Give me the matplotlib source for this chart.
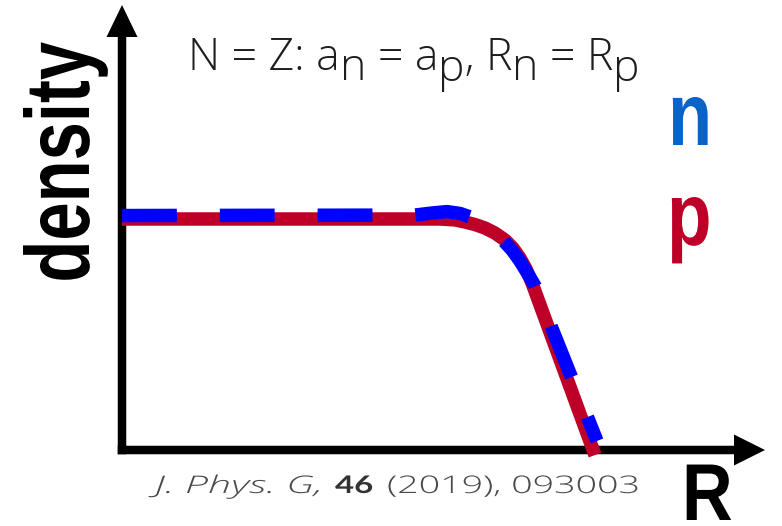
import matplotlib
matplotlib.use("Agg")
import matplotlib.pyplot as plt
from matplotlib import patheffects
from matplotlib.patches import FancyArrow
from matplotlib.transforms import Affine2D

# Radial coordinate (arb. units) and density normalised to the plateau
r_proton = [0.00, 6.36, 6.66, 6.86, 7.06, 7.26, 7.46, 7.66, 7.82, 7.96, 8.08, 8.20, 9.46]
rho_proton = [1.000, 1.000, 0.996, 0.987, 0.976, 0.961, 0.939, 0.909, 0.874,
              0.831, 0.784, 0.723, -0.022]

r_neutron = [0.00, 5.86, 6.20, 6.50, 6.76, 6.96, 7.16, 7.36, 7.60, 7.80, 7.96,
             8.12, 8.26, 9.50]
rho_neutron = [1.015, 1.017, 1.026, 1.032, 1.024, 1.009, 0.989, 0.961, 0.913,
               0.866, 0.818, 0.762, 0.710, 0.039]

# Title pieces: (text, lowered as subscript)
title_parts = [("N = Z: a", False), ("n", True), (" = a", False), ("p", True),
               (", R", False), ("n", True), (" = R", False), ("p", True)]

citation_text = ["J. Phys. G,", "46", "(2019), 093003"]

RED = "#BE0028"
BLUE = "#0000FF"
N_LABEL = "#0A64C8"

W, H = 782, 526
fig = plt.figure(figsize=(W / 100, H / 100), dpi=100)
# pixel coordinates with the origin at the top-left corner
px = Affine2D().scale(1 / W, -1 / H).translate(0, 1) + fig.transFigure
renderer = fig.canvas.get_renderer()

light = dict(family=["Open Sans", "Lato", "DejaVu Sans"], weight=300)


class Stretch(patheffects.AbstractPathEffect):
    """Scale glyph outlines along (sx) and across (sy) the writing direction."""

    def __init__(self, sx=1.0, sy=1.0):
        super().__init__()
        self._pre = Affine2D().scale(sx, sy)

    def draw_path(self, renderer, gc, tpath, affine, rgbFace=None):
        renderer.draw_path(gc, tpath, self._pre + affine, rgbFace)


def ink_width(s, **kw):
    t = fig.text(0, 0, s, **kw)
    w = t.get_window_extent(renderer).width
    t.remove()
    return w


# data axes: origin sits on the arrow corner
x0, y0, x1, y1 = 122, 450, 765, 5
ax = fig.add_axes([x0 / W, (H - y0) / H, (x1 - x0) / W, (y0 - y1) / H])
ax.patch.set_alpha(0)
ax.axis("off")

shaft = 8.5
ax.add_patch(FancyArrow(x0, y0 + shaft / 2, 0, y1 - (y0 + shaft / 2), width=shaft,
                        head_width=31, head_length=32, length_includes_head=True,
                        transform=px, color="black", lw=0, clip_on=False, zorder=1))
ax.add_patch(FancyArrow(x0 - shaft / 2, y0, x1 - (x0 - shaft / 2), 0, width=shaft,
                        head_width=31, head_length=31, length_includes_head=True,
                        transform=px, color="black", lw=0, clip_on=False, zorder=1))

lw = 9.7
ax.plot(r_proton, rho_proton, color=RED, lw=lw, solid_capstyle="butt",
        solid_joinstyle="round", clip_on=False, zorder=3)
ax.plot(r_neutron, rho_neutron, color=BLUE, lw=lw, linestyle=(0, (4.07, 3.19)),
        dash_capstyle="butt", dash_joinstyle="round", clip_on=False, zorder=4)

ax.set_xlim(0, (x1 - x0) / 50)
ax.set_ylim(0, (y0 - y1) / 231)

# title with full-size, lowered subscripts
tfont = dict(size=32, **light)
tx, ty, drop = 188, 70, 10.5
prefix = ""
for s, low in title_parts:
    body = s.lstrip()
    lead = s[: len(s) - len(body)]
    if prefix:
        off = ink_width(prefix + lead + body[0], **tfont) - ink_width(body[0], **tfont)
    else:
        off = 0
    fig.text(tx + off, ty + (drop if low else 0), body, transform=px, ha="left",
             va="baseline", color="#1e1e1e", **tfont)
    prefix += s

# journal reference: left edge and ink width of each piece, in px
cite_left = [155, 335, 387]
cite_width = [167, 38, 253]
cite_font = [dict(style="italic", **light),
             dict(family=["Lato", "DejaVu Sans"], style="normal", weight="bold"),
             dict(style="normal", **light)]
cite_color = ["#4a4a4a", "#333333", "#4a4a4a"]
for s, x, wt, kw, col in zip(citation_text, cite_left, cite_width, cite_font, cite_color):
    factor = wt / ink_width(s, size=17.5, **kw)
    fig.text(x, 493, s, transform=px, ha="left", va="baseline", color=col, size=17.5,
             path_effects=[Stretch(sx=factor)], **kw)

# bold labels drawn tall and narrow
bold = dict(family=["Liberation Sans", "DejaVu Sans"], weight="bold")
fig.text(89, 282.6, "density", transform=px, rotation=90, rotation_mode="anchor",
         ha="left", va="baseline", color="black", size=49.5,
         path_effects=[Stretch(sy=1 / 0.755)], **bold)
fig.text(668, 145, "n", transform=px, ha="left", va="baseline", color=N_LABEL,
         size=52, path_effects=[Stretch(sy=1 / 0.81)], **bold)
fig.text(667, 245, "p", transform=px, ha="left", va="baseline", color=RED,
         size=52.5, path_effects=[Stretch(sy=1 / 0.82)], **bold)
fig.text(682, 520, "R", transform=px, ha="left", va="baseline", color="black",
         size=50.5, path_effects=[Stretch(sy=1 / 0.87)], **bold)

fig.savefig("out.png", dpi=100)
